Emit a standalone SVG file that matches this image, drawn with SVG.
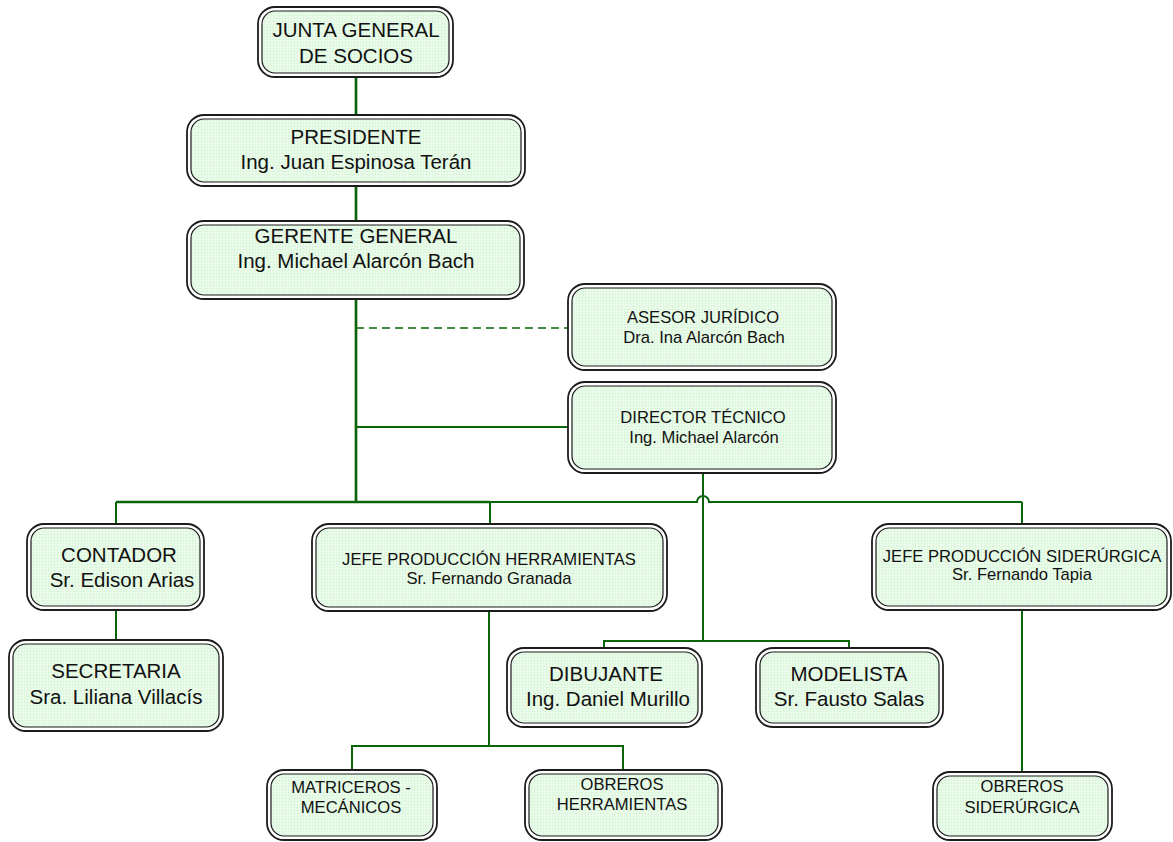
<svg xmlns="http://www.w3.org/2000/svg" width="1173" height="842" viewBox="0 0 1173 842">
<defs>
<pattern id="grid" width="3" height="3" patternUnits="userSpaceOnUse">
<rect width="3" height="3" fill="#ecfcec"/>
<path d="M0 0.5H3M0.5 0V3" stroke="#d9f4d9" stroke-width="0.6"/>
</pattern>
</defs>
<style>
.o{fill:#ffffff;stroke:#1c1c1c;stroke-width:1.8}
.i{fill:url(#grid);stroke:#1c1c1c;stroke-width:1.2}
text{font-family:"Liberation Sans",Arial,sans-serif;fill:#111;text-anchor:middle}
.b{font-size:20.5px}
.s{font-size:16.6px}
.c{fill:none;stroke:#0a640a;stroke-width:2}
.m{stroke-width:2.7}
.d{stroke-dasharray:8 5;stroke-width:1.6}
</style>
<rect width="1173" height="842" fill="#ffffff"/>
<g id="connectors">
<path class="c m" d="M356 77V115M356 186V221M356 299V502M116 502H490"/>
<path class="c" d="M490 502H697A6 6 0 0 1 709 502H1022M116 502V524M490 502V524M1022 502V524"/>
<path class="c d" d="M356 328H568"/>
<path class="c" d="M356 427H568"/>
<path class="c" d="M703 473V641M604 648V641H849V648"/>
<path class="c" d="M116 610V640"/>
<path class="c" d="M489 611V746M352 770V746H623V770"/>
<path class="c" d="M1022 610V772"/>
</g>
<g id="junta">
<rect class="o" x="258" y="7" width="195" height="70" rx="17"/>
<rect class="i" x="262" y="11" width="187" height="62" rx="13"/>
<text class="b" x="356" y="37">JUNTA GENERAL</text>
<text class="b" x="356" y="63">DE SOCIOS</text>
</g>
<g id="presidente">
<rect class="o" x="187" y="115" width="338" height="71" rx="17"/>
<rect class="i" x="191" y="119" width="330" height="63" rx="13"/>
<text class="b" x="356" y="144">PRESIDENTE</text>
<text class="b" x="356" y="169">Ing. Juan Espinosa Terán</text>
</g>
<g id="gerente">
<rect class="o" x="187" y="221" width="337" height="78" rx="17"/>
<rect class="i" x="191" y="225" width="329" height="70" rx="13"/>
<text class="b" x="356" y="243">GERENTE GENERAL</text>
<text class="b" x="356" y="268">Ing. Michael Alarcón Bach</text>
</g>
<g id="asesor">
<rect class="o" x="568" y="284" width="268" height="86" rx="17"/>
<rect class="i" x="572" y="288" width="260" height="78" rx="13"/>
<text class="s" x="703" y="323">ASESOR JURÍDICO</text>
<text class="s" x="704" y="343">Dra. Ina Alarcón Bach</text>
</g>
<g id="director">
<rect class="o" x="568" y="382" width="268" height="91" rx="17"/>
<rect class="i" x="572" y="386" width="260" height="83" rx="13"/>
<text class="s" x="703" y="423">DIRECTOR TÉCNICO</text>
<text class="s" x="704" y="443">Ing. Michael Alarcón</text>
</g>
<g id="contador">
<rect class="o" x="27" y="524" width="177" height="86" rx="17"/>
<rect class="i" x="31" y="528" width="169" height="78" rx="13"/>
<text class="b" x="119" y="562">CONTADOR</text>
<text class="b" x="122" y="587">Sr. Edison Arias</text>
</g>
<g id="secretaria">
<rect class="o" x="9" y="640" width="214" height="91" rx="17"/>
<rect class="i" x="13" y="644" width="206" height="83" rx="13"/>
<text class="b" x="116" y="678">SECRETARIA</text>
<text class="b" x="116" y="704">Sra. Liliana Villacís</text>
</g>
<g id="jefe-herramientas">
<rect class="o" x="312" y="524" width="355" height="87" rx="17"/>
<rect class="i" x="316" y="528" width="347" height="79" rx="13"/>
<text class="s" x="489" y="565">JEFE PRODUCCIÓN HERRAMIENTAS</text>
<text class="s" x="489" y="584">Sr. Fernando Granada</text>
</g>
<g id="jefe-siderurgica">
<rect class="o" x="872" y="524" width="299" height="86" rx="17"/>
<rect class="i" x="876" y="528" width="291" height="78" rx="13"/>
<text class="s" x="1022" y="562">JEFE PRODUCCIÓN SIDERÚRGICA</text>
<text class="s" x="1022" y="580">Sr. Fernando Tapia</text>
</g>
<g id="dibujante">
<rect class="o" x="507" y="648" width="195" height="79" rx="17"/>
<rect class="i" x="511" y="652" width="187" height="71" rx="13"/>
<text class="b" x="606" y="681">DIBUJANTE</text>
<text class="b" x="608" y="706">Ing. Daniel Murillo</text>
</g>
<g id="modelista">
<rect class="o" x="756" y="648" width="187" height="79" rx="17"/>
<rect class="i" x="760" y="652" width="179" height="71" rx="13"/>
<text class="b" x="849" y="681">MODELISTA</text>
<text class="b" x="849" y="706">Sr. Fausto Salas</text>
</g>
<g id="matriceros">
<rect class="o" x="267" y="770" width="170" height="70" rx="17"/>
<rect class="i" x="271" y="774" width="162" height="62" rx="13"/>
<text class="s" x="351" y="793">MATRICEROS -</text>
<text class="s" x="351" y="813">MECÁNICOS</text>
</g>
<g id="obreros-herramientas">
<rect class="o" x="525" y="770" width="197" height="70" rx="17"/>
<rect class="i" x="529" y="774" width="189" height="62" rx="13"/>
<text class="s" x="622" y="790">OBREROS</text>
<text class="s" x="622" y="810">HERRAMIENTAS</text>
</g>
<g id="obreros-siderurgica">
<rect class="o" x="933" y="772" width="179" height="68" rx="17"/>
<rect class="i" x="937" y="776" width="171" height="60" rx="13"/>
<text class="s" x="1022" y="792">OBREROS</text>
<text class="s" x="1022" y="813">SIDERÚRGICA</text>
</g>
</svg>
